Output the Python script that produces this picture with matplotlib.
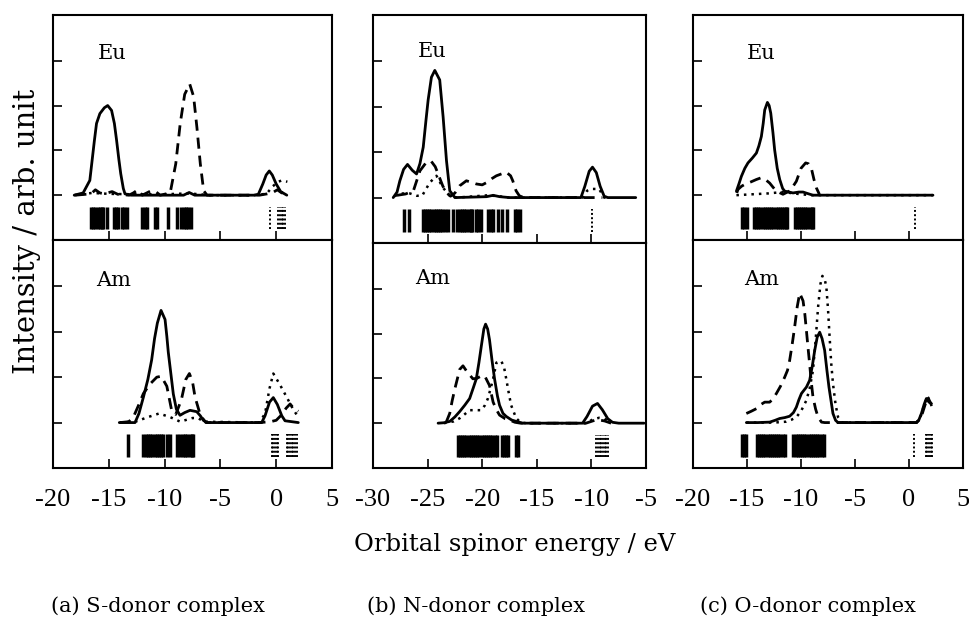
import matplotlib
matplotlib.use('Agg')
import matplotlib.pyplot as plt

plt.rcParams['font.family'] = ['Liberation Serif', 'DejaVu Serif']
plt.rcParams['axes.unicode_minus'] = False

# ---- (a) S-donor complex ----
a_eu_solid = [(-18.1, 0), (-17.3, 0.05), (-16.7, 0.33), (-16.3, 1.2), (-16.1, 1.6), (-15.8, 1.82),
              (-15.4, 1.95), (-15.1, 2.0), (-14.75, 1.89), (-14.5, 1.6), (-14.3, 1.22), (-14.1, 0.8),
              (-13.93, 0.48), (-13.7, 0.15), (-13.55, 0.03), (-13.0, 0), (-8.3, 0), (-7.8, 0.06),
              (-7.3, 0), (-2.0, 0), (-1.6, 0.02), (-1.2, 0.25), (-0.9, 0.45), (-0.62, 0.54),
              (-0.35, 0.45), (0.0, 0.25), (0.4, 0.08), (0.95, 0)]
a_eu_dash = [(-18.0, 0), (-16.6, 0.03), (-16.2, 0.12), (-15.8, 0.05), (-15.4, 0.03), (-14.7, 0.08),
             (-14.2, 0.02), (-13.2, 0), (-12.8, 0.05), (-12.4, 0.12), (-12.0, 0), (-11.2, 0.1),
             (-10.8, 0.08), (-10.4, 0), (-9.5, 0.05), (-9.0, 0.7), (-8.6, 1.6), (-8.2, 2.25),
             (-7.75, 2.48), (-7.4, 2.2), (-7.1, 1.5), (-6.8, 0.7), (-6.5, 0.1), (-6.2, 0),
             (-1.5, 0), (-0.8, 0.03), (-0.3, 0.06), (0.1, 0.12), (0.5, 0.05), (0.95, 0.12)]
a_eu_dot = [(-18.1, 0), (-16.5, 0.05), (-15.0, 0.03), (-13.0, 0.02), (-10.0, 0.02), (-7.8, 0.04),
            (-6.0, 0), (-1.5, 0), (-0.8, 0.05), (-0.3, 0.2), (0.2, 0.3), (0.5, 0.33), (1.0, 0.3)]
a_eu_sticks = [-16.6, -16.4, -16.2, -16.0, -15.8, -15.6, -15.5, -15.13, -14.55, -14.35, -14.15,
               -13.8, -13.6, -13.4, -12.0, -11.8, -11.55, -10.9, -10.65, -9.67, -8.85, -8.55,
               -8.3, -8.1, -7.9, -7.65]
a_eu_dsticks = [-0.55, 0.2, 0.35, 0.5, 0.65, 0.8]

a_am_solid = [(-14.06, 0), (-12.65, 0), (-12.3, 0.2), (-11.9, 0.56), (-11.5, 0.95), (-11.16, 1.38),
              (-10.9, 1.85), (-10.65, 2.19), (-10.32, 2.47), (-9.96, 2.27), (-9.8, 1.9), (-9.67, 1.55),
              (-9.45, 1.1), (-9.22, 0.63), (-8.95, 0.3), (-8.62, 0.16), (-8.2, 0.22), (-7.72, 0.27),
              (-7.12, 0.24), (-6.8, 0.15), (-6.53, 0.05), (-6.2, 0), (-1.3, 0), (-1.0, 0.15),
              (-0.6, 0.45), (-0.26, 0.55), (0.1, 0.4), (0.5, 0.15), (0.79, 0.04), (1.98, 0)]
a_am_dash = [(-14.0, 0), (-13.2, 0.02), (-12.8, 0.12), (-12.3, 0.4), (-11.9, 0.64), (-11.3, 0.85),
             (-10.7, 1.0), (-10.3, 1.02), (-9.8, 0.8), (-9.37, 0.27), (-9.0, 0.18), (-8.5, 0.5),
             (-8.1, 0.95), (-7.78, 1.08), (-7.5, 0.9), (-7.27, 0.56), (-6.9, 0.25), (-6.67, 0.12),
             (-6.3, 0), (-1.5, 0), (-0.5, 0.02), (0.0, 0.05), (0.4, 0.15), (0.9, 0.32),
             (1.25, 0.41), (1.6, 0.3), (1.98, 0.25)]
a_am_dot = [(-14.0, 0), (-12.5, 0.03), (-11.5, 0.12), (-10.5, 0.2), (-9.5, 0.12), (-8.6, 0.02),
            (-7.5, 0.1), (-7.0, 0.1), (-6.5, 0.02), (-1.5, 0), (-1.0, 0.2), (-0.6, 0.75),
            (-0.26, 1.08), (0.3, 0.85), (0.94, 0.56), (1.5, 0.3), (1.98, 0.12)]
a_am_sticks = [-13.3, -11.9, -11.7, -11.5, -11.3, -11.1, -10.9, -10.7, -10.5, -10.3, -10.15,
               -9.82, -9.52, -8.85, -8.6, -8.35, -8.15, -7.95, -7.75, -7.55, -7.45]
a_am_dsticks = [-0.4, -0.25, -0.1, 0.05, 0.2, 0.95, 1.1, 1.25, 1.4, 1.55, 1.7, 1.85]

# ---- (b) N-donor complex ----
b_eu_solid = [(-28.15, 0), (-27.8, 0.12), (-27.54, 0.37), (-27.2, 0.62), (-26.84, 0.73), (-26.4, 0.6),
              (-26.01, 0.52), (-25.7, 0.75), (-25.4, 1.11), (-25.15, 1.7), (-24.95, 2.15),
              (-24.65, 2.65), (-24.34, 2.8), (-23.89, 2.59), (-23.58, 1.78), (-23.27, 0.81),
              (-22.97, 0.15), (-22.5, 0), (-19.6, 0.02), (-19.0, 0.05), (-18.4, 0.02), (-17.5, 0),
              (-10.96, 0), (-10.6, 0.25), (-10.2, 0.58), (-9.9, 0.67), (-9.55, 0.55), (-9.2, 0.25),
              (-8.83, 0.03), (-8.5, 0), (-5.94, 0)]
b_eu_dash = [(-27.8, 0.05), (-27.0, 0.08), (-26.3, 0.15), (-25.7, 0.59), (-25.2, 0.75), (-24.7, 0.81),
             (-24.3, 0.68), (-24.04, 0.52), (-23.6, 0.25), (-23.27, 0.11), (-22.9, 0.03),
             (-22.5, 0.1), (-22.06, 0.26), (-21.45, 0.37), (-20.9, 0.33), (-20.54, 0.3),
             (-20.0, 0.28), (-19.6, 0.33), (-19.1, 0.42), (-18.7, 0.48), (-17.8, 0.56),
             (-17.4, 0.48), (-17.2, 0.37), (-16.9, 0.15), (-16.6, 0.04), (-16.2, 0),
             (-10.0, 0), (-9.5, 0), (-9.0, 0)]
b_eu_dot = [(-28.0, 0.03), (-27.54, 0.09), (-26.6, 0.09), (-26.0, 0.04), (-25.5, 0.04), (-24.8, 0.33),
            (-24.19, 0.48), (-23.6, 0.22), (-22.97, 0.04), (-22.3, 0), (-19.5, 0.05), (-18.5, 0.03),
            (-17.5, 0), (-10.8, 0), (-10.4, 0.15), (-10.05, 0.19), (-9.3, 0.19), (-8.83, 0),
            (-8.3, 0)]
b_eu_sticks = [-27.2, -26.7, -25.45, -25.25, -25.05, -24.85, -24.65, -24.45, -24.25, -24.05,
               -23.85, -23.65, -23.45, -23.1, -22.65, -22.3, -22.05, -21.85, -21.65, -21.45,
               -21.25, -21.05, -20.9, -20.6, -20.4, -20.1, -19.48, -19.23, -19.02, -18.56,
               -18.17, -17.71, -17.0, -16.8, -16.55]
b_eu_dsticks = [-9.9]

b_am_solid = [(-24.04, 0), (-23.5, 0.01), (-22.97, 0.04), (-22.5, 0.14), (-22.06, 0.26), (-21.6, 0.4),
              (-21.15, 0.55), (-20.8, 0.8), (-20.54, 0.99), (-20.3, 1.35), (-20.08, 1.72),
              (-19.85, 2.1), (-19.69, 2.21), (-19.5, 2.1), (-19.33, 1.86), (-19.1, 1.4),
              (-18.87, 0.99), (-18.6, 0.6), (-18.41, 0.4), (-18.1, 0.22), (-17.8, 0.15),
              (-17.3, 0.07), (-16.89, 0.04), (-16.3, 0), (-10.81, 0), (-10.4, 0.15), (-9.9, 0.38),
              (-9.44, 0.44), (-9.0, 0.3), (-8.5, 0.1), (-8.07, 0.02), (-7.5, 0), (-5.18, 0)]
b_am_dash = [(-23.3, 0.02), (-22.97, 0.22), (-22.75, 0.5), (-22.5, 0.77), (-22.06, 1.2), (-21.76, 1.28),
             (-21.4, 1.15), (-20.85, 0.99), (-20.5, 1.0), (-20.1, 1.05), (-19.78, 1.06),
             (-19.33, 0.84), (-19.0, 0.47), (-18.7, 0.3), (-18.41, 0.18), (-17.9, 0.1),
             (-17.5, 0.07), (-17.0, 0.02), (-16.5, 0), (-10.5, 0), (-9.5, 0.08), (-8.8, 0.05),
             (-8.2, 0)]
b_am_dot = [(-23.5, 0), (-22.6, 0.04), (-22.06, 0.11), (-21.6, 0.2), (-21.15, 0.29), (-20.5, 0.29),
            (-20.08, 0.29), (-19.75, 0.4), (-19.48, 0.55), (-19.2, 0.8), (-19.0, 0.99),
            (-18.7, 1.35), (-18.26, 1.39), (-18.0, 1.25), (-17.8, 0.99), (-17.55, 0.65),
            (-17.35, 0.4), (-16.89, 0.11), (-16.5, 0.02), (-16.0, 0), (-10.5, 0), (-9.9, 0.08),
            (-9.3, 0.12), (-8.8, 0.1), (-8.3, 0)]
b_am_sticks = [-22.25, -22.05, -21.85, -21.65, -21.45, -21.25, -21.05, -20.85, -20.65, -20.45,
               -20.25, -20.05, -19.85, -19.65, -19.45, -19.25, -19.1, -18.8, -18.6, -18.2,
               -18.0, -17.8, -17.6, -16.9, -16.7]
b_am_dsticks = [-9.55, -9.4, -9.25, -9.1, -8.95, -8.8, -8.65, -8.5]

# ---- (c) O-donor complex ----
c_eu_solid = [(-15.98, 0.09), (-15.75, 0.25), (-15.52, 0.42), (-15.2, 0.6), (-14.91, 0.72),
              (-14.5, 0.83), (-14.13, 0.94), (-13.9, 1.1), (-13.67, 1.31), (-13.5, 1.6),
              (-13.36, 1.9), (-13.11, 2.07), (-12.95, 2.0), (-12.8, 1.83), (-12.6, 1.4),
              (-12.44, 1.01), (-12.2, 0.6), (-11.97, 0.35), (-11.7, 0.15), (-11.51, 0.09),
              (-10.74, 0.05), (-10.2, 0.07), (-9.81, 0.07), (-9.3, 0.03), (-8.9, 0), (2.22, 0)]
c_eu_dash = [(-15.95, 0.05), (-15.83, 0.13), (-15.5, 0.2), (-15.21, 0.24), (-14.6, 0.3), (-14.13, 0.35),
             (-13.67, 0.39), (-13.3, 0.35), (-12.9, 0.27), (-12.6, 0.18), (-12.28, 0.09),
             (-11.67, 0.02), (-11.0, 0.1), (-10.43, 0.31), (-10.0, 0.6), (-9.57, 0.72),
             (-9.3, 0.7), (-9.05, 0.61), (-8.8, 0.35), (-8.57, 0.16), (-8.3, 0.02)]
c_eu_dot = [(-15.98, 0), (-14.5, 0.02), (-13.0, 0.04), (-11.7, 0.07), (-11.0, 0.05), (-10.0, 0.02),
            (-9.0, 0), (2.22, 0)]
c_eu_sticks = [-15.45, -15.25, -15.0, -14.35, -14.15, -13.95, -13.75, -13.55, -13.35, -13.15,
               -12.95, -12.75, -12.55, -12.35, -12.15, -11.95, -11.75, -11.55, -11.35, -11.3,
               -10.6, -10.4, -10.2, -10.0, -9.8, -9.6, -9.4, -9.2, -9.0, -8.9]
c_eu_dsticks = [0.6]

c_am_solid = [(-15.06, 0), (-14.0, 0), (-12.9, 0.01), (-12.4, 0.05), (-11.97, 0.09), (-11.5, 0.11),
              (-11.05, 0.14), (-10.7, 0.22), (-10.43, 0.34), (-10.2, 0.5), (-9.96, 0.64),
              (-9.7, 0.72), (-9.5, 0.78), (-9.2, 0.93), (-8.95, 1.25), (-8.73, 1.59), (-8.5, 1.88),
              (-8.27, 1.99), (-8.05, 1.85), (-7.81, 1.59), (-7.6, 1.15), (-7.41, 0.78),
              (-7.2, 0.45), (-7.04, 0.2), (-6.8, 0.05), (-6.57, 0), (0.68, 0), (0.9, 0.05),
              (1.15, 0.2), (1.4, 0.4), (1.61, 0.53), (1.85, 0.45), (2.07, 0.42)]
c_am_dash = [(-15.06, 0.2), (-14.6, 0.25), (-14.1, 0.31), (-13.7, 0.4), (-13.36, 0.45), (-12.9, 0.45),
             (-12.6, 0.52), (-12.28, 0.64), (-11.9, 0.8), (-11.51, 1.0), (-11.25, 1.15),
             (-11.05, 1.37), (-10.8, 1.75), (-10.59, 2.1), (-10.35, 2.55), (-10.12, 2.85),
             (-9.81, 2.68), (-9.65, 2.4), (-9.5, 2.03), (-9.35, 1.65), (-9.2, 1.29), (-9.05, 0.9),
             (-8.89, 0.56), (-8.65, 0.3), (-8.42, 0.12), (-8.1, 0.01), (-7.8, 0), (0.7, 0),
             (1.1, 0.1), (1.5, 0.4), (1.75, 0.55), (2.07, 0.4)]
c_am_dot = [(-15.06, 0), (-12.5, 0), (-11.36, 0.02), (-10.9, 0.06), (-10.43, 0.12), (-10.0, 0.25),
            (-9.5, 0.49), (-9.2, 0.75), (-8.89, 1.15), (-8.65, 1.8), (-8.42, 2.54), (-8.2, 3.05),
            (-8.02, 3.23), (-7.8, 3.15), (-7.65, 2.98), (-7.5, 2.5), (-7.35, 1.88), (-7.2, 1.3),
            (-7.04, 0.86), (-6.8, 0.4), (-6.57, 0.12), (-6.2, 0), (0.7, 0), (1.1, 0.15),
            (1.45, 0.42), (1.7, 0.58), (1.95, 0.48), (2.1, 0.35)]
c_am_sticks = [-15.45, -15.25, -15.05, -14.1, -13.9, -13.7, -13.5, -13.3, -13.1, -12.9, -12.7,
               -12.5, -12.3, -12.1, -11.9, -11.7, -11.5, -10.7, -10.5, -10.3, -10.1, -9.9, -9.7,
               -9.5, -9.3, -9.1, -8.9, -8.7, -8.5, -8.3, -8.1, -7.9]
c_am_dsticks = [0.5, 1.55, 1.7, 1.85, 2.0, 2.15]

x_ticks_a = [-20, -15, -10, -5, 0, 5]
x_ticks_b = [-30, -25, -20, -15, -10, -5]
x_ticks_c = [-20, -15, -10, -5, 0, 5]
y_ticks = [0, 1, 2, 3]
captions = ['(a) S-donor complex', '(b) N-donor complex', '(c) O-donor complex']

W, H = 970, 624
fig = plt.figure(figsize=(W / 100, H / 100), dpi=100)
SERIF_WIDE = ['DejaVu Serif']


def px_axes(l, r, t, b):
    return fig.add_axes([l / W, (H - b) / H, (r - l) / W, (b - t) / H])


def draw(ax, solid, dash, dot, sticks, dsticks, name, ticks, show_labels, lab_pos):
    for pts, kw in ((dot, dict(lw=1.8, ls=(0, (1, 2)))),
                    (dash, dict(lw=2.0, ls=(0, (4, 2.5)))),
                    (solid, dict(lw=2.0, ls='-'))):
        ax.plot([p[0] for p in pts], [p[1] for p in pts], color='black',
                solid_capstyle='round', **kw)
    ax.vlines(sticks, -0.75, -0.26, colors='black', lw=2.5)
    ax.vlines(dsticks, -0.75, -0.26, colors='black', lw=1.4, linestyles=(0, (1, 1.2)))
    ax.text(lab_pos[0], lab_pos[1], name, transform=ax.transAxes, fontsize=15,
            family=SERIF_WIDE, ha='left', va='center')
    ax.set_xlim(ticks[0], ticks[-1])
    ax.set_ylim(-1, 4.02)
    ax.set_xticks(ticks)
    ax.set_yticks(y_ticks)
    ax.tick_params(direction='in', length=6.5, width=1.2, labelleft=False,
                   labelbottom=show_labels, labelsize=19, pad=15)
    for s in ax.spines.values():
        s.set_linewidth(1.5)


panels = [
    ((53, 332), 240, x_ticks_a,
     (a_eu_solid, a_eu_dash, a_eu_dot, a_eu_sticks, a_eu_dsticks),
     (a_am_solid, a_am_dash, a_am_dot, a_am_sticks, a_am_dsticks),
     (0.16, 0.83), (0.154, 0.824)),
    ((373, 646), 243, x_ticks_b,
     (b_eu_solid, b_eu_dash, b_eu_dot, b_eu_sticks, b_eu_dsticks),
     (b_am_solid, b_am_dash, b_am_dot, b_am_sticks, b_am_dsticks),
     (0.165, 0.84), (0.154, 0.84)),
    ((693, 963), 240, x_ticks_c,
     (c_eu_solid, c_eu_dash, c_eu_dot, c_eu_sticks, c_eu_dsticks),
     (c_am_solid, c_am_dash, c_am_dot, c_am_sticks, c_am_dsticks),
     (0.2, 0.83), (0.189, 0.825)),
]

for (l, r), mid, ticks, eu, am, eu_pos, am_pos in panels:
    ax_top = px_axes(l, r, 15, mid)
    ax_bot = px_axes(l, r, mid, 468)
    draw(ax_top, *eu, 'Eu', ticks, False, eu_pos)
    draw(ax_bot, *am, 'Am', ticks, True, am_pos)

fig.text(27 / W, 1 - 231 / H, 'Intensity / arb. unit', rotation=90, fontsize=21,
         family=SERIF_WIDE, ha='center', va='center')
fig.text(515 / W, 1 - 545 / H, 'Orbital spinor energy / eV', fontsize=17.5,
         family=SERIF_WIDE, ha='center', va='center')
for cx, txt in zip([158, 476, 808], captions):
    fig.text(cx / W, 1 - 606 / H, txt, fontsize=15, family=SERIF_WIDE,
             ha='center', va='center')

fig.savefig('out.png', dpi=100, facecolor='white')
